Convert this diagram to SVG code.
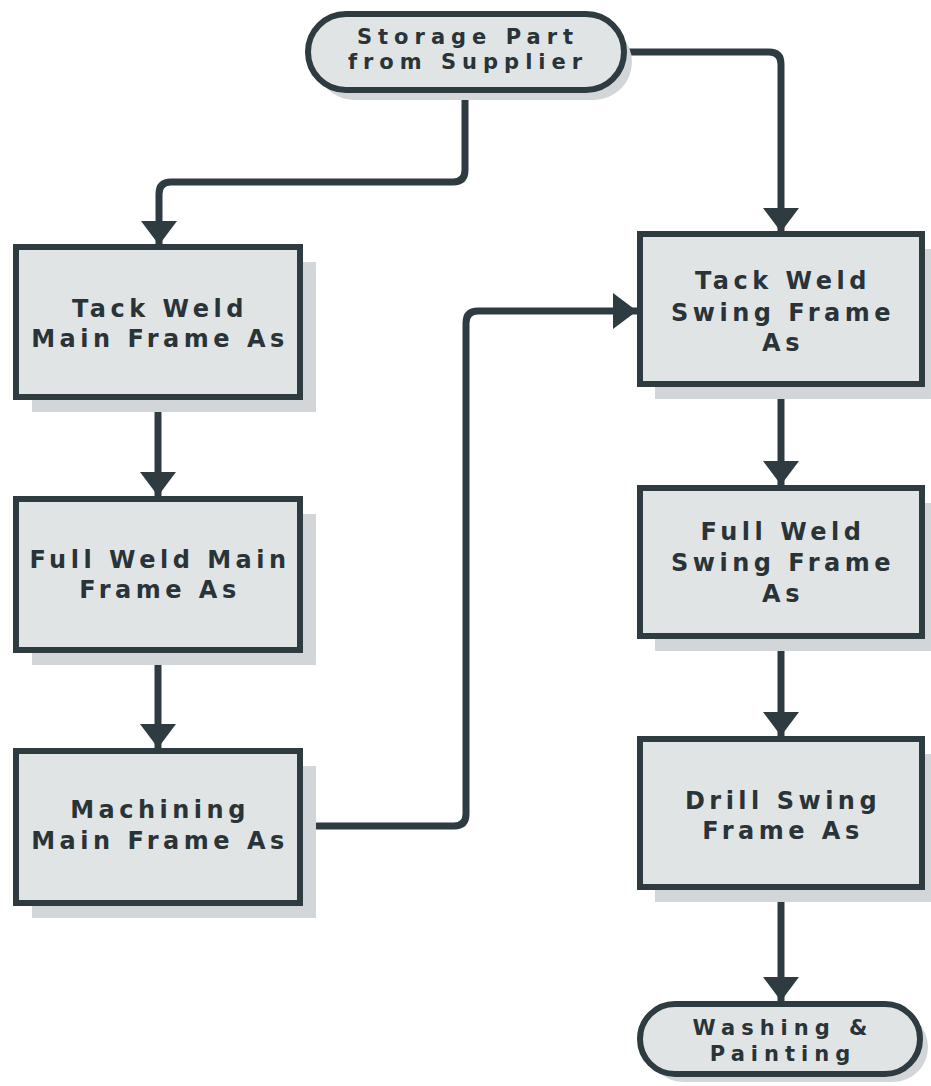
<svg xmlns="http://www.w3.org/2000/svg" width="931" height="1086" viewBox="0 0 931 1086">
  <style>
    .box { fill: #e1e4e5; stroke: #2e3b40; stroke-width: 6; }
    .shadow { fill: #d2d6d8; }
    .label { font-family: "DejaVu Sans", Verdana, sans-serif; font-weight: bold; font-size: 24px; letter-spacing: 4.5px; fill: #2a3438; text-anchor: middle; }
    .term { font-size: 21px; letter-spacing: 6px; }
    .wire { fill: none; stroke: #2e3b40; stroke-width: 7; stroke-linejoin: round; }
  </style>
  <defs>
    <marker id="arrow" markerUnits="userSpaceOnUse" markerWidth="26" markerHeight="38" refX="24" refY="18" orient="auto">
      <path d="M0,0 L24,18 L0,36 Z" fill="#2e3b40"/>
    </marker>
  </defs>
  <rect width="931" height="1086" fill="#ffffff"/>

  <!-- connectors -->
  <g id="connectors">
    <path class="wire" d="M465,92 V170 Q465,182 453,182 H171 Q159,182 159,194 V245" marker-end="url(#arrow)"/>
    <path class="wire" d="M625,52 H769 Q781,52 781,64 V232" marker-end="url(#arrow)"/>
    <path class="wire" d="M158,400 V496" marker-end="url(#arrow)"/>
    <path class="wire" d="M158,653 V748" marker-end="url(#arrow)"/>
    <path class="wire" d="M303,826 H454 Q466,826 466,814 V323 Q466,311 478,311 H637" marker-end="url(#arrow)"/>
    <path class="wire" d="M781,387 V485" marker-end="url(#arrow)"/>
    <path class="wire" d="M781,639 V736" marker-end="url(#arrow)"/>
    <path class="wire" d="M781,890 V1001" marker-end="url(#arrow)"/>
  </g>

  <!-- start terminal -->
  <g id="storage-part">
    <rect class="shadow" x="316" y="24" width="316" height="76" rx="38"/>
    <rect class="box" x="308" y="14" width="316" height="76" rx="38"/>
    <text class="label term" x="468" y="44">Storage Part</text>
    <text class="label term" x="468" y="69">from Supplier</text>
  </g>

  <g id="tack-weld-main">
    <rect class="shadow" x="32" y="262" width="284" height="150"/>
    <rect class="box" x="16" y="247" width="284" height="150"/>
    <text class="label" x="160" y="317">Tack Weld</text>
    <text class="label" x="160" y="347">Main Frame As</text>
  </g>

  <g id="full-weld-main">
    <rect class="shadow" x="32" y="514" width="284" height="151"/>
    <rect class="box" x="16" y="499" width="284" height="151"/>
    <text class="label" x="160" y="568">Full Weld Main</text>
    <text class="label" x="160" y="598">Frame As</text>
  </g>

  <g id="machining-main">
    <rect class="shadow" x="32" y="766" width="284" height="152"/>
    <rect class="box" x="16" y="751" width="284" height="152"/>
    <text class="label" x="160" y="818">Machining</text>
    <text class="label" x="160" y="849">Main Frame As</text>
  </g>

  <g id="tack-weld-swing">
    <rect class="shadow" x="655" y="249" width="282" height="150"/>
    <rect class="box" x="640" y="234" width="282" height="150"/>
    <text class="label" x="783" y="289">Tack Weld</text>
    <text class="label" x="783" y="321">Swing Frame</text>
    <text class="label" x="783" y="351">As</text>
  </g>

  <g id="full-weld-swing">
    <rect class="shadow" x="655" y="503" width="282" height="148"/>
    <rect class="box" x="640" y="488" width="282" height="148"/>
    <text class="label" x="783" y="540">Full Weld</text>
    <text class="label" x="783" y="571">Swing Frame</text>
    <text class="label" x="783" y="602">As</text>
  </g>

  <g id="drill-swing">
    <rect class="shadow" x="655" y="754" width="282" height="148"/>
    <rect class="box" x="640" y="739" width="282" height="148"/>
    <text class="label" x="783" y="809">Drill Swing</text>
    <text class="label" x="783" y="839">Frame As</text>
  </g>

  <!-- end terminal -->
  <g id="washing-painting">
    <rect class="shadow" x="648" y="1012" width="280" height="70" rx="35"/>
    <rect class="box" x="640" y="1004" width="280" height="70" rx="35"/>
    <text class="label term" x="783" y="1035">Washing &amp;</text>
    <text class="label term" x="783" y="1061">Painting</text>
  </g>
</svg>
